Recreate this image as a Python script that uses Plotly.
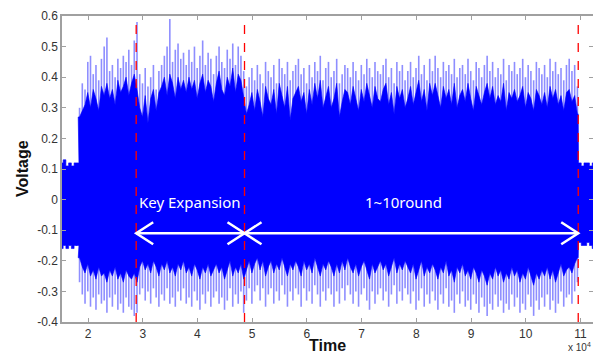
import plotly.graph_objects as go

# ---------------- data ----------------
# active region: one column every 500 samples, 18450 ... 109450 (183 columns)
col_t = list(range(18450, 109500, 500))

upper_peak = [
    0.30, 0.38, 0.36, 0.45, 0.47, 0.41, 0.44, 0.39, 0.46, 0.50,
    0.53, 0.42, 0.44, 0.40, 0.46, 0.43, 0.47, 0.45, 0.49, 0.44,
    0.52, 0.58, 0.41, 0.38, 0.43, 0.37, 0.40, 0.44, 0.36, 0.42,
    0.44, 0.47, 0.50, 0.59, 0.45, 0.49, 0.51, 0.46, 0.48, 0.44,
    0.49, 0.45, 0.50, 0.43, 0.47, 0.52, 0.44, 0.48, 0.46, 0.41,
    0.47, 0.50, 0.45, 0.43, 0.49, 0.46, 0.51, 0.44, 0.50, 0.47,
    0.42, 0.37, 0.40, 0.43, 0.39, 0.44, 0.41, 0.38, 0.45, 0.42,
    0.40, 0.44, 0.38, 0.46, 0.43, 0.41, 0.45, 0.39, 0.42, 0.44,
    0.46, 0.41, 0.43, 0.38, 0.44, 0.40, 0.45, 0.42, 0.47, 0.39,
    0.43, 0.45, 0.40, 0.42, 0.46, 0.38, 0.41, 0.44, 0.43, 0.40,
    0.45, 0.42, 0.39, 0.44, 0.41, 0.46, 0.43, 0.40, 0.45, 0.42,
    0.41, 0.44, 0.46, 0.40, 0.43, 0.38, 0.45, 0.42, 0.44, 0.39,
    0.42, 0.45, 0.40, 0.43, 0.47, 0.41, 0.44, 0.39, 0.46, 0.42,
    0.47, 0.43, 0.40, 0.45, 0.42, 0.44, 0.41, 0.46, 0.40, 0.43,
    0.44, 0.41, 0.46, 0.42, 0.39, 0.45, 0.43, 0.40, 0.44, 0.47,
    0.42, 0.45, 0.40, 0.43, 0.41, 0.46, 0.39, 0.44, 0.42, 0.45,
    0.41, 0.43, 0.46, 0.40, 0.44, 0.42, 0.39, 0.45, 0.43, 0.41,
    0.44, 0.40, 0.46, 0.42, 0.45, 0.41, 0.43, 0.39, 0.44, 0.46,
    0.42, 0.44, 0.37]
upper_core = [
    0.27, 0.29, 0.31, 0.35, 0.30, 0.36, 0.33, 0.29, 0.37, 0.34,
    0.38, 0.33, 0.36, 0.31, 0.39, 0.35, 0.37, 0.40, 0.34, 0.38,
    0.41, 0.36, 0.30, 0.27, 0.34, 0.25, 0.33, 0.36, 0.29, 0.35,
    0.37, 0.40, 0.34, 0.41, 0.38, 0.33, 0.40, 0.36, 0.39, 0.35,
    0.40, 0.36, 0.39, 0.33, 0.38, 0.41, 0.35, 0.39, 0.37, 0.32,
    0.38, 0.42, 0.36, 0.34, 0.40, 0.37, 0.43, 0.35, 0.41, 0.39,
    0.33, 0.28, 0.31, 0.35, 0.29, 0.36, 0.32, 0.27, 0.37, 0.33,
    0.31, 0.36, 0.28, 0.38, 0.34, 0.30, 0.37, 0.26, 0.33, 0.35,
    0.37, 0.32, 0.35, 0.28, 0.36, 0.31, 0.38, 0.33, 0.39, 0.30,
    0.34, 0.37, 0.30, 0.33, 0.38, 0.27, 0.32, 0.36, 0.35, 0.31,
    0.37, 0.33, 0.29, 0.36, 0.32, 0.38, 0.34, 0.30, 0.37, 0.33,
    0.32, 0.36, 0.38, 0.31, 0.35, 0.28, 0.37, 0.33, 0.36, 0.30,
    0.33, 0.37, 0.31, 0.35, 0.39, 0.32, 0.36, 0.29, 0.38, 0.34,
    0.38, 0.34, 0.30, 0.37, 0.33, 0.36, 0.31, 0.38, 0.30, 0.34,
    0.36, 0.32, 0.38, 0.33, 0.29, 0.37, 0.34, 0.31, 0.35, 0.38,
    0.33, 0.37, 0.31, 0.34, 0.32, 0.38, 0.29, 0.35, 0.33, 0.36,
    0.32, 0.34, 0.37, 0.30, 0.35, 0.33, 0.29, 0.36, 0.34, 0.31,
    0.35, 0.30, 0.37, 0.33, 0.36, 0.31, 0.34, 0.29, 0.35, 0.36,
    0.32, 0.34, 0.28]
lower_core = [
    -0.19, -0.22, -0.24, -0.21, -0.25, -0.23, -0.26, -0.22, -0.25, -0.24,
    -0.27, -0.23, -0.25, -0.22, -0.26, -0.24, -0.27, -0.23, -0.25, -0.26,
    -0.24, -0.27, -0.22, -0.20, -0.23, -0.21, -0.24, -0.20, -0.22, -0.25,
    -0.21, -0.23, -0.20, -0.24, -0.22, -0.25, -0.21, -0.23, -0.20, -0.24,
    -0.22, -0.25, -0.21, -0.23, -0.26, -0.22, -0.24, -0.21, -0.25, -0.23,
    -0.21, -0.24, -0.22, -0.26, -0.23, -0.20, -0.25, -0.22, -0.24, -0.21,
    -0.26, -0.23, -0.20, -0.24, -0.21, -0.19, -0.23, -0.20, -0.25, -0.22,
    -0.20, -0.24, -0.21, -0.23, -0.19, -0.22, -0.25, -0.21, -0.23, -0.20,
    -0.22, -0.25, -0.20, -0.23, -0.21, -0.24, -0.19, -0.22, -0.25, -0.21,
    -0.23, -0.20, -0.22, -0.25, -0.21, -0.24, -0.20, -0.23, -0.19, -0.22,
    -0.24, -0.21, -0.25, -0.22, -0.20, -0.23, -0.26, -0.21, -0.24, -0.22,
    -0.20, -0.23, -0.21, -0.25, -0.22, -0.19, -0.24, -0.21, -0.23, -0.20,
    -0.22, -0.24, -0.21, -0.26, -0.23, -0.20, -0.25, -0.22, -0.24, -0.21,
    -0.23, -0.26, -0.22, -0.24, -0.20, -0.25, -0.23, -0.27, -0.22, -0.24,
    -0.21, -0.25, -0.23, -0.26, -0.22, -0.24, -0.27, -0.23, -0.25, -0.28,
    -0.24, -0.26, -0.22, -0.25, -0.23, -0.27, -0.24, -0.26, -0.22, -0.25,
    -0.23, -0.27, -0.24, -0.26, -0.22, -0.25, -0.28, -0.24, -0.26, -0.23,
    -0.25, -0.22, -0.26, -0.23, -0.27, -0.24, -0.21, -0.25, -0.23, -0.22,
    -0.24, -0.21, -0.19]
lower_peak = [
    -0.27, -0.31, -0.34, -0.30, -0.35, -0.32, -0.36, -0.31, -0.34, -0.33,
    -0.37, -0.32, -0.35, -0.31, -0.36, -0.34, -0.37, -0.32, -0.35, -0.36,
    -0.38, -0.37, -0.31, -0.29, -0.33, -0.30, -0.34, -0.29, -0.32, -0.35,
    -0.31, -0.33, -0.29, -0.34, -0.32, -0.35, -0.30, -0.33, -0.29, -0.34,
    -0.32, -0.35, -0.30, -0.33, -0.36, -0.31, -0.34, -0.30, -0.35, -0.32,
    -0.30, -0.34, -0.32, -0.36, -0.33, -0.29, -0.35, -0.31, -0.34, -0.30,
    -0.37, -0.33, -0.29, -0.34, -0.30, -0.28, -0.33, -0.29, -0.35, -0.31,
    -0.29, -0.34, -0.30, -0.33, -0.28, -0.31, -0.35, -0.30, -0.33, -0.29,
    -0.31, -0.35, -0.29, -0.33, -0.30, -0.34, -0.28, -0.31, -0.35, -0.30,
    -0.33, -0.29, -0.31, -0.35, -0.30, -0.34, -0.29, -0.33, -0.28, -0.31,
    -0.34, -0.30, -0.35, -0.31, -0.29, -0.33, -0.36, -0.30, -0.34, -0.31,
    -0.29, -0.33, -0.30, -0.35, -0.31, -0.28, -0.34, -0.30, -0.33, -0.29,
    -0.31, -0.34, -0.30, -0.36, -0.33, -0.29, -0.35, -0.31, -0.34, -0.30,
    -0.33, -0.36, -0.31, -0.34, -0.29, -0.35, -0.33, -0.37, -0.31, -0.34,
    -0.30, -0.35, -0.33, -0.36, -0.31, -0.34, -0.37, -0.32, -0.35, -0.38,
    -0.34, -0.36, -0.31, -0.35, -0.33, -0.37, -0.34, -0.36, -0.31, -0.35,
    -0.32, -0.37, -0.34, -0.36, -0.31, -0.35, -0.38, -0.33, -0.36, -0.32,
    -0.35, -0.31, -0.36, -0.33, -0.37, -0.34, -0.30, -0.35, -0.32, -0.31,
    -0.34, -0.30, -0.27]

# quiet (idle) segments before and after the encryption
quiet_left_t = [15200, 15700, 16200, 16700, 17200, 17700, 18100]
quiet_left_up = [0.12, 0.13, 0.11, 0.12, 0.11, 0.12, 0.12]
quiet_left_lo = [-0.16, -0.15, -0.16, -0.15, -0.16, -0.15, -0.15]
quiet_right_t = [109900, 110400, 110900, 111400, 111900, 112400]
quiet_right_up = [0.12, 0.11, 0.12, 0.12, 0.11, 0.12]
quiet_right_lo = [-0.14, -0.15, -0.15, -0.14, -0.15, -0.16]

active_start, active_end = 18200, 109600
boundaries = [28800, 48600, 109600]          # red dashed markers
phase_labels = ["Key Expansion", "1~10round"]

x_range = [15240, 112300]
y_range = [-0.4, 0.6]
x_ticks = [20000, 30000, 40000, 50000, 60000, 70000, 80000, 90000, 100000, 110000]
x_ticktext = ["2", "3", "4", "5", "6", "7", "8", "9", "10", "11"]
y_ticks = [-0.4, -0.3, -0.2, -0.1, 0, 0.1, 0.2, 0.3, 0.4, 0.5, 0.6]
y_ticktext = ["-0.4", "-0.3", "-0.2", "-0.1", "0", "0.1", "0.2", "0.3", "0.4", "0.5", "0.6"]

# ---------------- envelope polygon ----------------
BLUE = "#0000FF"
half_q = 250


def boundary(q_left, q_right, core):
    xs, ys = [], []
    for t, v in zip(quiet_left_t, q_left):
        xs += [max(t - half_q, x_range[0] - 300), t + half_q]
        ys += [v, v]
    xs += [active_start] + col_t + [active_end]
    ys += [core[0]] + core + [core[-1]]
    for t, v in zip(quiet_right_t, q_right):
        xs += [t - half_q, t + half_q]
        ys += [v, v]
    return xs, ys


up_x, up_y = boundary(quiet_left_up, quiet_right_up, upper_core)
lo_x, lo_y = boundary(quiet_left_lo, quiet_right_lo, lower_core)
poly_x = up_x + lo_x[::-1]
poly_y = up_y + lo_y[::-1]

# light spikes (drawn under the dense core)
sp_x, sp_y = [], []
for t, up, lp in zip(col_t, upper_peak, lower_peak):
    sp_x += [t, t, None]
    sp_y += [lp, up, None]

fig = go.Figure()
fig.add_trace(go.Scatter(x=sp_x, y=sp_y, mode="lines",
                         line=dict(color="rgba(30,30,255,0.5)", width=1.6),
                         hoverinfo="skip", showlegend=False))
fig.add_trace(go.Scatter(x=poly_x, y=poly_y, mode="lines", fill="toself",
                         fillcolor=BLUE, line=dict(color=BLUE, width=0.6),
                         hoverinfo="skip", showlegend=False))

# dashed red boundaries
for b in boundaries:
    fig.add_shape(type="line", x0=b, x1=b, y0=y_range[0], y1=y_range[1],
                  xref="x", yref="y", line=dict(color="#FF0000", width=1.3, dash="dash"))

# white double arrows with open chevrons
arrow_y = -0.11
for a, b in [(boundaries[0], boundaries[1]), (boundaries[1], boundaries[2])]:
    fig.add_shape(type="line", x0=a, x1=b, y0=arrow_y, y1=arrow_y, xref="x", yref="y",
                  line=dict(color="white", width=2.5))
    fig.add_shape(type="path", xref="x", yref="y", xsizemode="pixel", ysizemode="pixel",
                  xanchor=a, yanchor=arrow_y,
                  path="M 17 11 L 0 0 L 17 -11", line=dict(color="white", width=2.5))
    fig.add_shape(type="path", xref="x", yref="y", xsizemode="pixel", ysizemode="pixel",
                  xanchor=b, yanchor=arrow_y,
                  path="M -17 11 L 0 0 L -17 -11", line=dict(color="white", width=2.5))

label_font = dict(family="Noto Sans, Open Sans, sans-serif", size=15, color="white")
fig.add_annotation(x=(boundaries[0] + boundaries[1]) / 2, y=-0.008, text=phase_labels[0],
                   showarrow=False, font=label_font, xref="x", yref="y")
fig.add_annotation(x=(boundaries[1] + boundaries[2]) / 2 - 1500, y=-0.008, text=phase_labels[1],
                   showarrow=False, font=label_font, xref="x", yref="y")

# axis titles and exponent label
title_font = dict(family="Arial, Liberation Sans", size=16, color="#111")
fig.add_annotation(x=0.5, y=0, xref="paper", yref="paper", yshift=-23, yanchor="middle",
                   text="<b>Time</b>", showarrow=False, font=title_font)
fig.add_annotation(x=0, y=0.5, xref="paper", yref="paper", xshift=-40, xanchor="center",
                   text="<b>Voltage</b>", textangle=-90, showarrow=False, font=title_font)
fig.add_annotation(x=1.0, y=0, xref="paper", yref="paper", xanchor="right", yanchor="middle",
                   yshift=-25, text="x 10<sup>4</sup>", showarrow=False,
                   font=dict(family="Arial, Liberation Sans", size=10, color="#333"))

axis_common = dict(showline=True, linecolor="#A0A0A0", linewidth=1.5, mirror="ticks",
                   ticks="inside", ticklen=4, tickcolor="#A0A0A0", showgrid=False,
                   zeroline=False, automargin=False,
                   tickfont=dict(family="Arial, Liberation Sans", size=12, color="#333"))

fig.update_xaxes(range=x_range, tickvals=x_ticks, ticktext=x_ticktext, **axis_common)
fig.update_yaxes(range=y_range, tickvals=y_ticks, ticktext=y_ticktext, **axis_common)

# the page body adds an 8 px offset, so the figure is 8 px smaller with reduced l/t margins
fig.update_layout(width=593, height=346, margin=dict(l=54, r=8, t=8, b=32),
                  paper_bgcolor="white", plot_bgcolor="white")

fig.write_html("out.html")
